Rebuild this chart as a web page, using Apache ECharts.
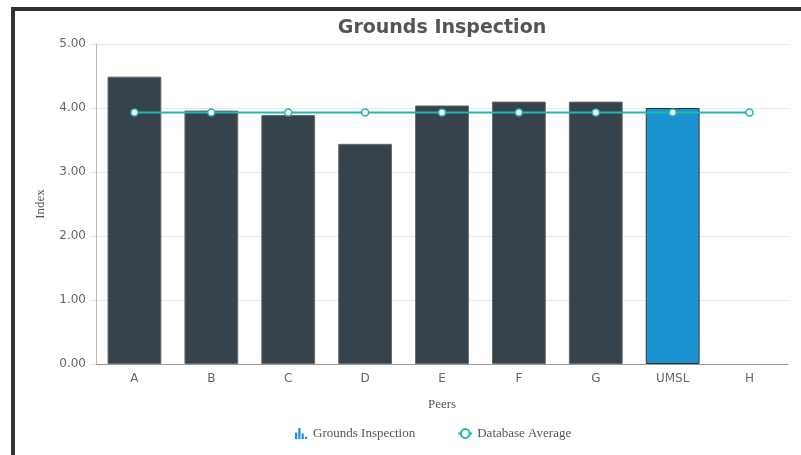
<!DOCTYPE html>
<html><head><meta charset="utf-8">
<script src="https://cdn.jsdelivr.net/npm/echarts@6/dist/echarts.min.js"></script>
<style>html,body{margin:0;padding:0;background:#fff}#c{width:801px;height:455px}</style>
</head><body><div id="c"></div>
<script>
const categories = ['A','B','C','D','E','F','G','UMSL','H'];
const groundsValues = [4.49, 3.96, 3.89, 3.44, 4.04, 4.10, 4.10, 4.00, null];
const databaseAverage = [3.93, 3.93, 3.93, 3.93, 3.93, 3.93, 3.93, 3.93, 3.93];
const highlightCategory = 'UMSL';
const yTicks = [0, 1, 2, 3, 4, 5];

const chart = echarts.init(document.getElementById('c'), null, {renderer:'canvas'});
const barIcon = 'path://M0,4h2v6h-2z M3,0h2v10h-2z M6,5h2v5h-2z M9,8h2v2h-2z';
chart.setOption({
  animation:false,
  title:{text:'Grounds Inspection', left:437, textAlign:'center', top:14,
    textStyle:{fontFamily:'DejaVu Sans', fontSize:19, fontWeight:'bold', color:'#555'}},
  graphic:[
    {type:'rect', shape:{x:11, y:7, width:790, height:4}, style:{fill:'#2f2f2f'}},
    {type:'rect', shape:{x:11, y:7, width:4, height:448}, style:{fill:'#333'}}
  ],
  grid:{left:96, right:13, top:44, bottom:91},
  legend:{top:422, left:290, itemGap:42, itemWidth:14, itemHeight:11,
    textStyle:{fontFamily:'Liberation Serif', fontSize:13, color:'#555'},
    data:[{name:'Grounds Inspection', icon:barIcon, itemStyle:{color:'#1b93d1', borderWidth:0}},
          {name:'Database Average'}]},
  xAxis:{type:'category', data:categories, name:'Peers', nameLocation:'middle', nameGap:34,
    nameTextStyle:{fontFamily:'Liberation Serif', fontSize:13, color:'#555'},
    axisLine:{lineStyle:{color:'#999'}}, axisTick:{show:false},
    axisLabel:{fontFamily:'DejaVu Sans', fontSize:12, color:'#666', margin:9}},
  yAxis:{type:'value', min:0, max:5, interval:1, name:'Index', nameLocation:'middle', nameGap:49,
    nameTextStyle:{fontFamily:'Liberation Serif', fontSize:13, color:'#555'},
    axisLine:{show:true, lineStyle:{color:'#bbb'}}, axisTick:{show:true, length:5, lineStyle:{color:'#ddd'}},
    splitLine:{lineStyle:{color:'#e8e8e8'}},
    axisLabel:{fontFamily:'DejaVu Sans', fontSize:12, color:'#666', margin:10,
      formatter:v=>v.toFixed(2)}},
  series:[
    {name:'Grounds Inspection', type:'bar', barWidth:'70%',
      data:groundsValues.map((v,i)=>({value:v, itemStyle: categories[i]===highlightCategory ?
        {color:'#1b93d1', borderColor:'#333', borderWidth:1} : {color:'#36434c', borderColor:'#6a6a6a', borderWidth:1}})),
      itemStyle:{color:'#36434c'}},
    {name:'Database Average', type:'line', data:databaseAverage, symbol:'circle', symbolSize:7,
      lineStyle:{color:'#1fb7ae', width:2}, itemStyle:{color:'#fff', borderColor:'#1fb7ae', borderWidth:1.5},
      z:5}
  ]
});
</script></body></html>
